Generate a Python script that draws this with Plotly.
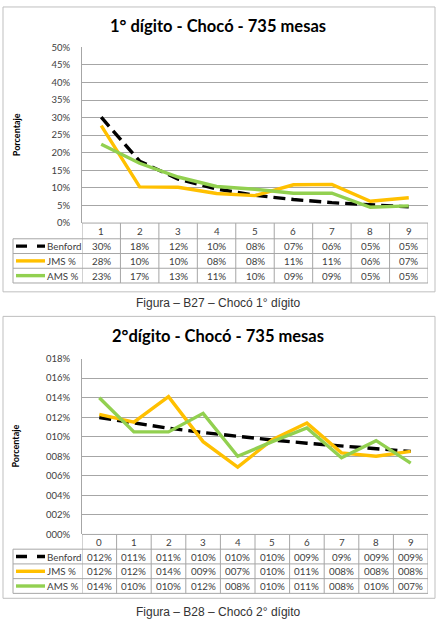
import plotly.graph_objects as go

# ---------------- data ----------------
digits1 = [1, 2, 3, 4, 5, 6, 7, 8, 9]
benford1 = [0.301, 0.176, 0.125, 0.097, 0.079, 0.067, 0.058, 0.051, 0.046]
jms1 = [0.277, 0.103, 0.102, 0.084, 0.078, 0.109, 0.110, 0.062, 0.072]
ams1 = [0.224, 0.170, 0.131, 0.104, 0.096, 0.085, 0.085, 0.045, 0.049]
tab1_benford = ["30%", "18%", "12%", "10%", "08%", "07%", "06%", "05%", "05%"]
tab1_jms = ["28%", "10%", "10%", "08%", "08%", "11%", "11%", "06%", "07%"]
tab1_ams = ["23%", "17%", "13%", "11%", "10%", "09%", "09%", "05%", "05%"]
ytick1_vals = [0, 0.05, 0.10, 0.15, 0.20, 0.25, 0.30, 0.35, 0.40, 0.45, 0.50]
ytick1_text = ["0%", "5%", "10%", "15%", "20%", "25%", "30%", "35%", "40%", "45%", "50%"]

digits2 = [0, 1, 2, 3, 4, 5, 6, 7, 8, 9]
benford2 = [0.1197, 0.1139, 0.1088, 0.1043, 0.1003, 0.0967, 0.0934, 0.0904, 0.0876, 0.0850]
jms2 = [0.123, 0.115, 0.141, 0.095, 0.069, 0.097, 0.114, 0.0835, 0.080, 0.085]
ams2 = [0.140, 0.105, 0.105, 0.124, 0.080, 0.095, 0.109, 0.0785, 0.096, 0.073]
tab2_benford = ["012%", "011%", "011%", "010%", "010%", "010%", "009%", "09%", "009%", "009%"]
tab2_jms = ["012%", "012%", "014%", "009%", "007%", "010%", "011%", "008%", "008%", "008%"]
tab2_ams = ["014%", "010%", "010%", "012%", "008%", "010%", "011%", "008%", "010%", "007%"]
ytick2_vals = [0, 0.02, 0.04, 0.06, 0.08, 0.10, 0.12, 0.14, 0.16, 0.18]
ytick2_text = ["000%", "002%", "004%", "006%", "008%", "010%", "012%", "014%", "016%", "018%"]

series_names = ["Benford", "JMS %", "AMS %"]
series_colors = ["#000000", "#FFC000", "#92D050"]

title1 = "1° dígito - Chocó - 735 mesas"
title2 = "2°dígito - Chocó - 735 mesas"
caption1 = "Figura – B27 – Chocó 1° dígito"
caption2 = "Figura – B28 – Chocó 2° dígito"

# ---------------- layout helpers ----------------
W, H = 440, 619
FONT = "Lato"
GRID = "#A6A6A6"
TXT = "#404040"


def px(x):
    return x / W


def py(y):
    return 1 - y / H


fig = go.Figure()
shapes = []
annotations = []


def add_chart(n, cats, series, tables, yvals, ytext, yrange, title, caption, geo):
    xa = "x" if n == 1 else "x%d" % n
    ya = "y" if n == 1 else "y%d" % n
    left, right, top, bottom = geo["plot"]
    rows = geo["rows"]
    for name, color, vals in zip(series_names, series_colors, series):
        dash = "12px,6px" if name == "Benford" else "solid"
        fig.add_trace(go.Scatter(
            x=cats, y=vals, mode="lines", name=name, xaxis=xa, yaxis=ya,
            line=dict(color=color, width=3.4, dash=dash), showlegend=False,
            hoverinfo="skip"))
    ax = dict(domain=[px(left), px(right)], range=[cats[0] - 0.5, cats[-1] + 0.5],
              showgrid=False, zeroline=False, showticklabels=False, fixedrange=True,
              anchor=ya)
    ay = dict(domain=[py(bottom), py(top)], range=yrange, tickvals=yvals, ticktext=ytext,
              showgrid=True, gridcolor=GRID, gridwidth=1, zeroline=False,
              showline=True, linecolor=GRID, linewidth=1, ticks="",
              ticklabelstandoff=9, tickfont=dict(family=FONT, size=9.5, color=TXT),
              anchor=xa)
    key_x = "xaxis" if n == 1 else "xaxis%d" % n
    key_y = "yaxis" if n == 1 else "yaxis%d" % n
    fig.update_layout(**{key_x: ax, key_y: ay})

    # chart area border
    bx0, by0, bx1, by1 = geo["box"]
    shapes.append(dict(type="rect", xref="paper", yref="paper", x0=px(bx0), x1=px(bx1),
                       y0=py(by1), y1=py(by0), line=dict(color="#BFBFBF", width=1)))
    # title
    annotations.append(dict(text="<b>%s</b>" % title, xref="paper", yref="paper",
                            x=px(218), y=py(geo["title_y"]), showarrow=False,
                            font=dict(family=FONT, size=16.5, color="#000000"),
                            xanchor="center", yanchor="middle"))
    # y axis title
    annotations.append(dict(text="<b>Porcentaje</b>", xref="paper", yref="paper",
                            x=px(16), y=py((top + bottom) / 2), textangle=-90,
                            showarrow=False, font=dict(family=FONT, size=9, color="#000000"),
                            xanchor="center", yanchor="middle"))
    # caption
    annotations.append(dict(text=caption, xref="paper", yref="paper",
                            x=px(218), y=py(geo["caption_y"]), showarrow=False,
                            font=dict(family="Liberation Sans", size=12, color="#333333"),
                            xanchor="center", yanchor="middle"))

    # table grid
    leg_left = geo["leg_left"]
    for i, ry in enumerate(rows):
        x0 = px(left) if i == 0 else px(leg_left)
        shapes.append(dict(type="line", xref="paper", yref="paper", x0=x0, x1=px(right),
                           y0=py(ry), y1=py(ry), line=dict(color=GRID, width=1)))
    bounds = [c - 0.5 for c in cats] + [cats[-1] + 0.5]
    for b in bounds:
        shapes.append(dict(type="line", xref=xa, yref="paper", x0=b, x1=b,
                           y0=py(rows[0]), y1=py(rows[-1]), line=dict(color=GRID, width=1)))
    shapes.append(dict(type="line", xref="paper", yref="paper", x0=px(leg_left), x1=px(leg_left),
                       y0=py(rows[1]), y1=py(rows[-1]), line=dict(color=GRID, width=1)))

    cell_font = dict(family=FONT, size=9.8, color=TXT)
    # category row
    cy = (rows[0] + rows[1]) / 2
    for c in cats:
        annotations.append(dict(text=str(c), xref=xa, yref="paper", x=c, y=py(cy),
                                showarrow=False, font=cell_font, xanchor="center",
                                yanchor="middle"))
    # series rows
    for r, (name, color, labels) in enumerate(zip(series_names, series_colors, tables)):
        ry = (rows[r + 1] + rows[r + 2]) / 2
        for c, lab in zip(cats, labels):
            annotations.append(dict(text=lab, xref=xa, yref="paper", x=c, y=py(ry),
                                    showarrow=False, font=cell_font, xanchor="center",
                                    yanchor="middle"))
        dash = "11px,10px" if name == "Benford" else "solid"
        shapes.append(dict(type="line", xref="paper", yref="paper", x0=px(16), x1=px(45),
                           y0=py(ry), y1=py(ry), line=dict(color=color, width=3.4, dash=dash)))
        annotations.append(dict(text=name, xref="paper", yref="paper", x=px(44.5), y=py(ry),
                                showarrow=False, font=cell_font, xanchor="left",
                                yanchor="middle"))


add_chart(1, digits1, [benford1, jms1, ams1], [tab1_benford, tab1_jms, tab1_ams],
          ytick1_vals, ytick1_text, [0, 0.5], title1, caption1,
          dict(plot=(82, 428, 42, 221), rows=[221, 237, 252, 267, 282], box=(3, 1, 435, 291),
               title_y=20, caption_y=302, leg_left=13))
add_chart(2, digits2, [benford2, jms2, ams2], [tab2_benford, tab2_jms, tab2_ams],
          ytick2_vals, ytick2_text, [0, 0.18], title2, caption2,
          dict(plot=(82, 428, 359, 538), rows=[538, 553, 568, 583, 598], box=(3, 316, 435, 603),
               title_y=336, caption_y=617, leg_left=13))

fig.update_layout(width=W, height=H, margin=dict(l=0, r=0, t=0, b=0),
                  paper_bgcolor="white", plot_bgcolor="white",
                  shapes=shapes, annotations=annotations, showlegend=False)

fig.write_html("out.html", config={"displayModeBar": False})
